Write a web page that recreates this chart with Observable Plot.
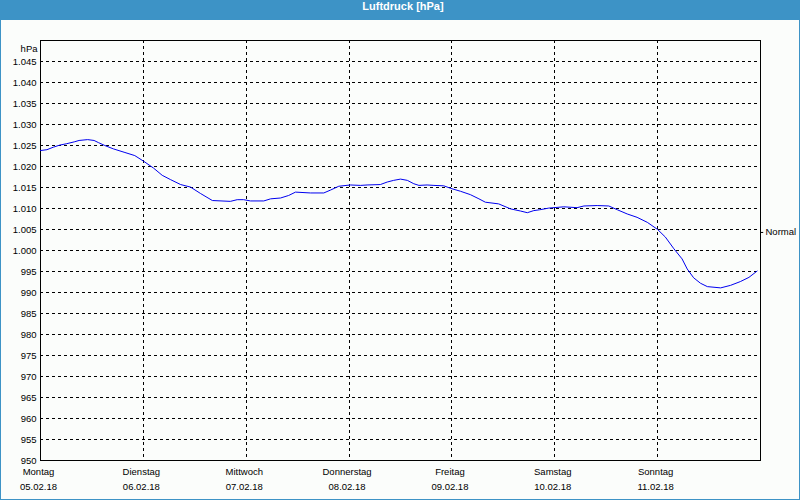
<!DOCTYPE html>
<html>
<head>
<meta charset="utf-8">
<script src="https://cdn.jsdelivr.net/npm/d3@7"></script>
<script src="https://cdn.jsdelivr.net/npm/@observablehq/plot@0.6"></script>
<style>
  html, body { margin: 0; padding: 0; background: #fbfdfb; }
  #wrap { position: relative; width: 800px; height: 500px; background: #fbfdfb; overflow: hidden; }
  #title { height: 20px; line-height: 18px; background: #3d93c6; color: #fff; font: bold 11px "Liberation Sans", Arial, sans-serif; text-align: center; padding-left: 6px; box-sizing: border-box; }
  #border { position: absolute; left: 0; top: 0; width: 800px; height: 500px; box-sizing: border-box; border: 1px solid #3d93c6; border-top: none; pointer-events: none; }
  svg { display: block; }
</style>
</head>
<body>
<div id="wrap">
  <div id="title">Luftdruck [hPa]</div>
  <div id="chart"></div>
  <div id="border"></div>
</div>
<script>
// Hours since Montag 05.02.18 00:00
const hours = [0, 1.5, 3, 4.5, 6, 8, 9, 11, 12.5, 13.5, 15, 17, 19.5, 22, 24, 26.4, 28.4, 30.3, 32.7, 35, 37.3, 40.1, 44.3, 45.9, 47.4, 49, 52.1, 53.7, 56, 57.9, 59.5, 63, 66.1, 67.7, 69.6, 72.3, 74.7, 76.2, 79.3, 80.9, 82.4, 84, 85.6, 87.1, 88.3, 90.2, 91.8, 94.1, 95.7, 98, 100.3, 102.3, 103.8, 106.9, 109.7, 112, 113.6, 115.1, 116.5, 118.6, 122.1, 125.2, 126.8, 129.9, 132.6, 134.6, 136.9, 139.2, 141.6, 144.0, 145.8, 147.8, 149.7, 150.9, 152.4, 154, 155.6, 158.7, 161, 163.3, 165.3, 167.2];
const pressure = [1023.8, 1024.0, 1024.6, 1025.1, 1025.4, 1025.9, 1026.2, 1026.4, 1026.2, 1025.7, 1025.0, 1024.2, 1023.4, 1022.6, 1021.3, 1019.6, 1017.9, 1016.9, 1015.7, 1015.1, 1013.6, 1011.9, 1011.7, 1012.1, 1012.1, 1011.8, 1011.8, 1012.3, 1012.5, 1013.1, 1013.9, 1013.7, 1013.7, 1014.4, 1015.3, 1015.6, 1015.5, 1015.6, 1015.7, 1016.3, 1016.7, 1017.0, 1016.7, 1015.9, 1015.5, 1015.6, 1015.5, 1015.4, 1014.8, 1014.1, 1013.3, 1012.3, 1011.5, 1011.1, 1009.9, 1009.4, 1009.0, 1009.5, 1009.7, 1010.1, 1010.4, 1010.2, 1010.6, 1010.7, 1010.6, 1009.7, 1008.7, 1007.9, 1006.7, 1005.0, 1003.2, 1000.4, 998.0, 995.6, 993.5, 992.2, 991.4, 991.1, 991.7, 992.6, 993.6, 995.1];

const dayHours = [0, 24, 48, 72, 96, 120, 144];
const dayNames = ["Montag", "Dienstag", "Mittwoch", "Donnerstag", "Freitag", "Samstag", "Sonntag"];
const dayDates = ["05.02.18", "06.02.18", "07.02.18", "08.02.18", "09.02.18", "10.02.18", "11.02.18"];
const yTicks = [950, 955, 960, 965, 970, 975, 980, 985, 990, 995, 1000, 1005, 1010, 1015, 1020, 1025, 1030, 1035, 1040, 1045];
const normalValue = 1004.3;
const normalLabel = "Normal";
const unitLabel = "hPa";

const data = hours.map((h, i) => ({h, p: pressure[i]}));
const days = dayHours.map((h, i) => ({h, name: dayNames[i], date: dayDates[i]}));
const de = d3.formatLocale({decimal: ",", thousands: ".", grouping: [3], currency: ["", " €"]});
const fmt = de.format(",d");
const FONT = "Liberation Sans, Arial, sans-serif";

const chart = Plot.plot({
  width: 800,
  height: 480,
  marginTop: 20,
  marginBottom: 40,
  marginLeft: 40,
  marginRight: 40,
  style: {fontFamily: FONT, fontSize: "9.5px", color: "#000", background: "transparent", overflow: "visible"},
  x: {domain: [0, 168], axis: null},
  y: {domain: [950, 1050], ticks: yTicks, tickFormat: fmt, tickSize: 0, tickPadding: 4, label: null},
  marks: [
    Plot.ruleY(yTicks.filter(v => v > 950), {stroke: "#000", strokeDasharray: "3,3", strokeWidth: 1, shapeRendering: "crispEdges"}),
    Plot.ruleX(dayHours.filter(h => h > 0), {stroke: "#000", strokeDasharray: "3,3", strokeWidth: 1, shapeRendering: "crispEdges"}),
    Plot.frame({stroke: "#000", strokeWidth: 1, shapeRendering: "crispEdges"}),
    Plot.line(data, {x: "h", y: "p", stroke: "#0000f0", strokeWidth: 1}),
    Plot.ruleY([normalValue], {x1: 168, x2: 168.75, stroke: "#000", clip: false}),
    Plot.text([normalLabel], {y: () => normalValue, frameAnchor: "right", textAnchor: "start", dx: 5, fill: "#000"}),
    Plot.text([unitLabel], {frameAnchor: "top-left", textAnchor: "end", dx: -3, dy: 5, fill: "#000"}),
    Plot.text(days, {x: "h", text: "name", frameAnchor: "bottom", dx: -2, dy: 14, fill: "#000"}),
    Plot.text(days, {x: "h", text: "date", frameAnchor: "bottom", dx: -2, dy: 29, fill: "#000"})
  ]
});
document.getElementById("chart").appendChild(chart);
</script>
</body>
</html>
